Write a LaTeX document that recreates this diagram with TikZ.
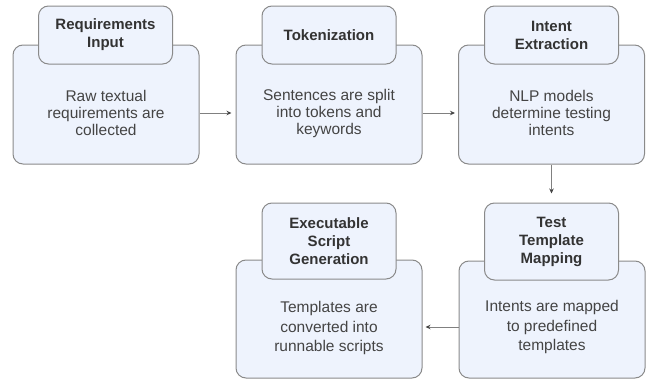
\documentclass[tikz,border=0pt]{standalone}
\usepackage{fontspec}
\setmainfont{Liberation Sans}
\usetikzlibrary{arrows.meta}
\definecolor{boxfill}{RGB}{238,243,253}
\definecolor{boxline}{RGB}{138,138,138}
\definecolor{bodytext}{RGB}{68,68,68}
\definecolor{headtext}{RGB}{51,51,51}
\definecolor{arrowline}{RGB}{128,128,128}
\definecolor{arrowtip}{RGB}{70,70,70}
\tikzset{
  mainbox/.style={draw=boxline, fill=boxfill, line width=1pt, rounded corners=10pt,
    minimum width=186pt, minimum height=119pt, inner sep=0pt},
  headbox/.style={draw=boxline, fill=boxfill, line width=1pt, rounded corners=10pt,
    minimum width=134pt, inner sep=0pt, text=headtext, align=center,
    font=\fontsize{15}{18}\selectfont\bfseries},
  bodytxt/.style={align=center, text=bodytext, inner sep=0pt,
    font=\fontsize{15.5}{17}\selectfont},
  flow/.style={draw=arrowline, line width=0.9pt,
    -{Stealth[length=5pt,width=4.5pt,color=arrowtip]}}
}
\begin{document}
\begin{tikzpicture}[x=1pt,y=-1pt]
\useasboundingbox (0,0) rectangle (649,380);

% top row
\node[mainbox] (b1) at (106,104.5) {};
\node[headbox, minimum height=58pt] (h1) at (105.5,35) {Requirements\\Input};
\node[bodytxt] (t1) at (106,113) {Raw textual\\requirements are\\collected};

\node[mainbox] (b2) at (329,104.5) {};
\node[headbox, minimum height=58pt] (h2) at (329,35) {Tokenization};
\node[bodytxt] (t2) at (329,113) {Sentences are split\\into tokens and\\keywords};

\node[mainbox] (b3) at (551.5,104.5) {};
\node[headbox, minimum height=58pt] (h3) at (551.5,35) {Intent\\Extraction};
\node[bodytxt] (t3) at (551.5,113) {NLP models\\determine testing\\intents};

% bottom row
\node[mainbox, minimum height=118pt] (b4) at (329,319) {};
\node[headbox, minimum height=76pt] (h4) at (329,241) {Executable\\Script\\Generation};
\node[bodytxt, font=\fontsize{15.5}{19.5}\selectfont] (t4) at (329,328) {Templates are\\converted into\\runnable scripts};

\node[mainbox, minimum height=117pt] (b5) at (552,319.5) {};
\node[headbox, minimum height=77pt] (h5) at (551.5,241.5) {Test\\Template\\Mapping};
\node[bodytxt, font=\fontsize{15.5}{19.5}\selectfont] (t5) at (552,327) {Intents are mapped\\to predefined\\templates};

% connectors
\draw[flow, shorten >=4pt] (b1.east |- t1.center) -- (b2.west |- t1.center);
\draw[flow, shorten >=3pt] (b2.east |- t2.center) -- (b3.west |- t2.center);
\draw[flow, shorten >=9pt] (b3.south) -- (h5.north);
\draw[flow, shorten >=3pt] (b5.west |- t5.center) -- (b4.east |- t5.center);
\end{tikzpicture}
\end{document}
